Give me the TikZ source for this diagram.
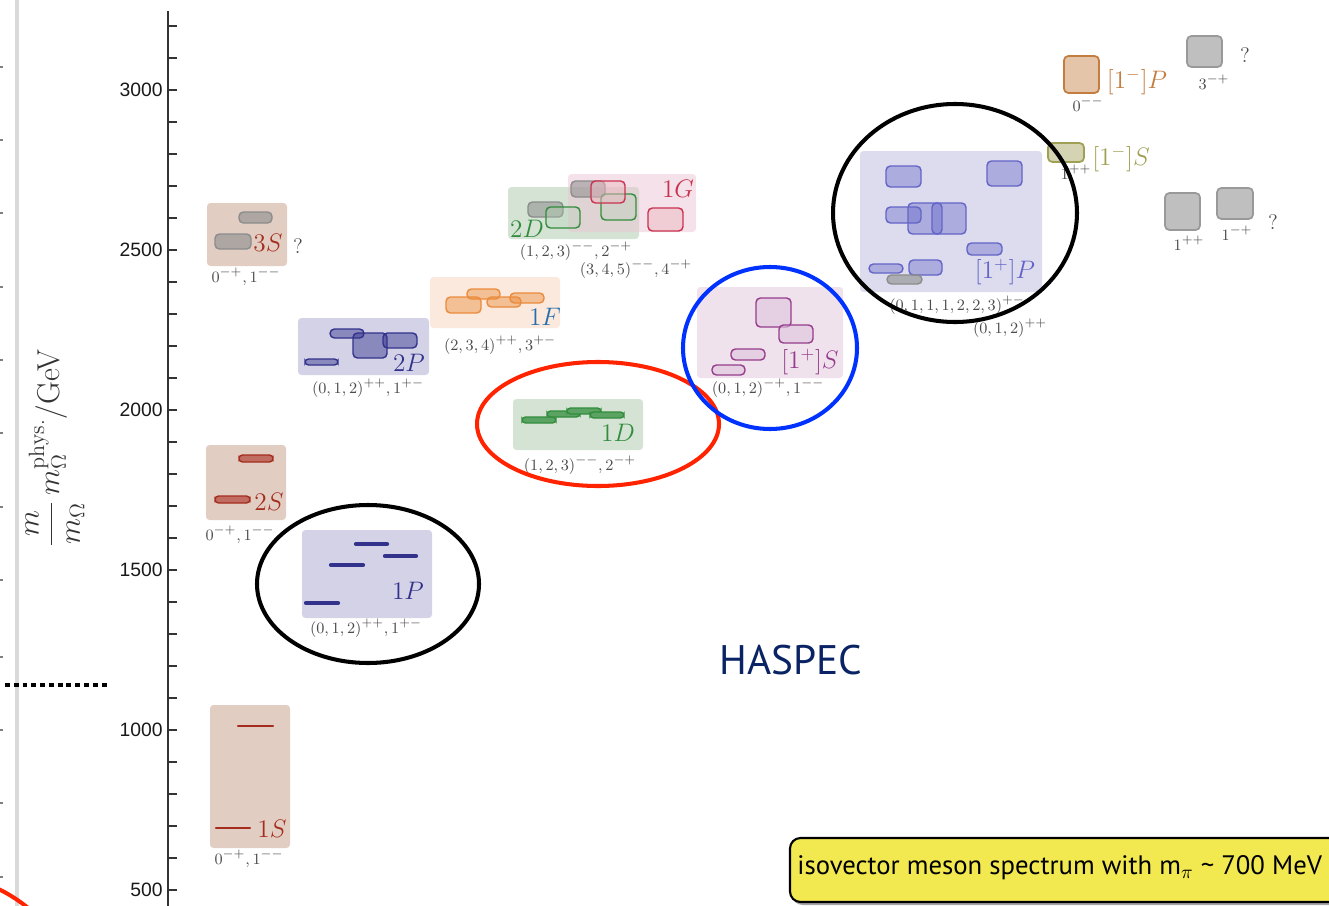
\documentclass[tikz,border=0pt]{standalone}
\usepackage{fontspec}
\newfontfamily\tickfont{Liberation Sans}
\newfontfamily\slidefont{PT Sans}
\definecolor{sbg}{RGB}{226,205,195}
\definecolor{scol}{RGB}{165,45,30}
\definecolor{pbg}{RGB}{212,210,230}
\definecolor{pcol}{RGB}{50,50,140}
\definecolor{dbg}{RGB}{170,200,170}
\definecolor{dcol}{RGB}{50,140,60}
\definecolor{fbg}{RGB}{251,233,222}
\definecolor{fcol}{RGB}{235,140,60}
\definecolor{ftxt}{RGB}{40,110,170}
\definecolor{gbg}{RGB}{235,195,211}
\definecolor{gcol}{RGB}{200,50,80}
\definecolor{hsbg}{RGB}{240,226,236}
\definecolor{hscol}{RGB}{150,60,140}
\definecolor{hpbg}{RGB}{220,220,238}
\definecolor{hpcol}{RGB}{100,100,200}
\definecolor{brcol}{RGB}{195,125,65}
\definecolor{olcol}{RGB}{160,160,85}
\definecolor{qngray}{RGB}{75,75,75}
\definecolor{navy}{RGB}{10,35,100}
\definecolor{notey}{RGB}{242,232,80}
\definecolor{ringred}{RGB}{255,35,0}
\definecolor{ringblue}{RGB}{0,50,255}
\begin{document}
\begin{tikzpicture}[x=0.02cm, y=-0.02cm,
    lbl/.style={font=\fontsize{14.5}{16}\selectfont, inner sep=0pt},
    qn/.style={font=\fontsize{9.5}{11}\selectfont, text=qngray, inner sep=0pt},
    ask/.style={font=\fontsize{12}{14}\selectfont, text=qngray, inner sep=0pt},
    bg/.style={rounded corners=2pt},
    bar/.style={rounded corners=2.5pt, line width=0.8pt},
    lev/.style={line width=2.4pt, line cap=round},
    ring/.style={line width=2.3pt}
  ]
  \useasboundingbox (0,0) rectangle (1329,906);

  % slide edge on the left
  \draw[gray!30, line width=1.8pt] (17,0) -- (17,906);
  \foreach \t in {67,140,213,287,360,433,507,580,657,730,803,877}
    \draw[gray, line width=0.8pt] (0,\t) -- (3,\t);
  \draw[line width=2.8pt, dash pattern=on 2.8pt off 2.2pt] (5,685) -- (107,685);
  \draw[ringred, ring] (-67,1024) ellipse [x radius=150, y radius=150];

  % mass axis
  \draw[line width=1pt, black!80] (168,11) -- (168,906);
  \foreach \m in {500,600,...,3200}
    \draw[line width=0.9pt, black!80] (168,{890-(\m-500)*0.32}) -- ++(9,0);
  \foreach \m in {500,1000,...,3000}
    \node(tick\m) at (163,{890-(\m-500)*0.32}) [anchor=east, inner sep=0pt, font=\tickfont\fontsize{11}{13}\selectfont, text=black!90] {\m};
  \node(ylab) at (55,448) [rotate=90, font=\fontsize{18}{20}\selectfont, text=black!80] {$\displaystyle\frac{m}{m_\Omega}\,m_\Omega^{\mathrm{phys.}}$/GeV};

  % S-wave
  \fill[sbg, bg] (210,705) rectangle (290,848);
  \draw[scol, lev, line width=1.3pt] (238,726) -- (273,726);
  \draw[scol, lev, line width=1.3pt] (216,828) -- (250,828);
  \node(lbl_1S) at (272,829) [lbl, text=scol] {$1S$};
  \node(qn_1S) at (249,859) [qn] {$0^{-+},1^{--}$};

  \fill[sbg, bg] (206,445) rectangle (286,520);
  \draw[scol, bar, fill=scol!70, rounded corners=2pt] (239,455) rectangle (273,462);
  \draw[scol, bar, fill=scol!70, rounded corners=2pt] (215,496) rectangle (250,503);
  \node(lbl_2S) at (269,502) [lbl, text=scol] {$2S$};
  \node(qn_2S) at (240,535) [qn] {$0^{-+},1^{--}$};

  \fill[sbg, bg] (207,203) rectangle (287,266);
  \draw[black!45, bar, fill=black!45, fill opacity=0.6] (239,212) rectangle (272,223);
  \draw[black!45, bar, fill=black!45, fill opacity=0.6] (215,234) rectangle (251,249);
  \node(lbl_3S) at (268,243) [lbl, text=scol] {$3S$};
  \node(q_3S) at (298,246) [ask] {?};
  \node(qn_3S) at (246,277) [qn] {$0^{-+},1^{--}$};

  % P-wave
  \fill[pbg, bg] (302,530) rectangle (432,618);
  \draw[pcol, lev] (306,603) -- (338,603);
  \draw[pcol, lev] (331,565) -- (363,565);
  \draw[pcol, lev] (356,544) -- (387,544);
  \draw[pcol, lev] (385,556) -- (416,556);
  \node(lbl_1P) at (408,591) [lbl, text=pcol] {$1P$};
  \node(qn_1P) at (366,628) [qn] {$(0,1,2)^{++},1^{+-}$};

  \fill[pbg, bg] (298,318) rectangle (429,375);
  \draw[pcol, bar, fill=pcol, fill opacity=0.45, rounded corners=2pt] (305,359) rectangle (338,365);
  \draw[pcol, bar, fill=pcol, fill opacity=0.45] (330,329) rectangle (364,338);
  \draw[pcol, bar, fill=pcol, fill opacity=0.45] (353,333) rectangle (387,358);
  \draw[pcol, bar, fill=pcol, fill opacity=0.45] (383,333) rectangle (417,348);
  \node(lbl_2P) at (409,363) [lbl, text=pcol] {$2P$};
  \node(qn_2P) at (368,388) [qn] {$(0,1,2)^{++},1^{+-}$};

  % D-wave
  \fill[dbg, bg, fill opacity=0.5] (513,399) rectangle (643,450);
  \draw[dcol, bar, fill=dcol!80, rounded corners=2pt] (522,417) rectangle (556,423);
  \draw[dcol, bar, fill=dcol!80, rounded corners=2pt] (547,411) rectangle (580,417);
  \draw[dcol, bar, fill=dcol!80, rounded corners=2pt] (567,408) rectangle (601,414);
  \draw[dcol, bar, fill=dcol!80, rounded corners=2pt] (590,412) rectangle (624,418);
  \node(lbl_1D) at (618,433) [lbl, text=dcol] {$1D$};
  \node(qn_1D) at (580,465) [qn] {$(1,2,3)^{--},2^{-+}$};

  % F-wave
  \fill[fbg, bg] (430,277) rectangle (560,328);
  \draw[fcol, bar, fill=fcol, fill opacity=0.45] (446,297) rectangle (481,313);
  \draw[fcol, bar, fill=fcol, fill opacity=0.45] (467,289) rectangle (500,299);
  \draw[fcol, bar, fill=fcol, fill opacity=0.45] (487,297) rectangle (521,307);
  \draw[fcol, bar, fill=fcol, fill opacity=0.45] (510,293) rectangle (544,303);
  \node(lbl_1F) at (545,317) [lbl, text=ftxt] {$1F$};
  \node(qn_1F) at (500,345) [qn] {$(2,3,4)^{++},3^{+-}$};

  % 2D and G-wave
  \fill[dbg, bg, fill opacity=0.5] (508,187) rectangle (639,239);
  \fill[gbg, bg, fill opacity=0.5] (568,174) rectangle (696,232);
  \draw[black!45, bar, fill=black!45, fill opacity=0.55] (528,202) rectangle (563,217);
  \draw[black!45, bar, fill=black!45, fill opacity=0.55] (571,181) rectangle (605,197);
  \draw[dcol, bar, fill=dcol!40, fill opacity=0.3] (546,207) rectangle (580,228);
  \draw[dcol, bar, fill=dcol!40, fill opacity=0.3] (601,194) rectangle (636,220);
  \draw[gcol, bar, fill=gcol!35, fill opacity=0.5] (591,181) rectangle (625,203);
  \draw[gcol, bar, fill=gcol!35, fill opacity=0.5] (648,208) rectangle (683,231);
  \node(lbl_2D) at (527,229) [lbl, text=dcol] {$2D$};
  \node(lbl_1G) at (678,189) [lbl, text=gcol] {$1G$};
  \node(qn_2D) at (576,251) [qn] {$(1,2,3)^{--},2^{-+}$};
  \node(qn_1G) at (636,269) [qn] {$(3,4,5)^{--},4^{-+}$};

  % hybrid S
  \fill[hsbg, bg] (697,287) rectangle (843,378);
  \draw[hscol, bar, fill=hscol!30, fill opacity=0.6] (712,365) rectangle (745,375);
  \draw[hscol, bar, fill=hscol!30, fill opacity=0.6] (731,349) rectangle (765,360);
  \draw[hscol, bar, fill=hscol!30, fill opacity=0.6] (756,298) rectangle (791,327);
  \draw[hscol, bar, fill=hscol!30, fill opacity=0.6] (779,325) rectangle (813,343);
  \node(lbl_hS) at (810,362) [lbl, text=hscol] {$[1^{+}]S$};
  \node(qn_hS) at (768,388) [qn] {$(0,1,2)^{-+},1^{--}$};

  % hybrid P
  \fill[hpbg, bg] (860,151) rectangle (1042,292);
  \draw[hpcol, bar, fill=hpcol, fill opacity=0.4] (886,166) rectangle (921,187);
  \draw[hpcol, bar, fill=hpcol, fill opacity=0.4] (987,161) rectangle (1022,186);
  \draw[hpcol, bar, fill=hpcol, fill opacity=0.4] (886,207) rectangle (921,223);
  \draw[hpcol, bar, fill=hpcol, fill opacity=0.4] (908,203) rectangle (942,234);
  \draw[hpcol, bar, fill=hpcol, fill opacity=0.4] (932,203) rectangle (966,234);
  \draw[hpcol, bar, fill=hpcol, fill opacity=0.4] (967,243) rectangle (1002,255);
  \draw[hpcol, bar, fill=hpcol, fill opacity=0.4] (869,264) rectangle (903,273);
  \draw[hpcol, bar, fill=hpcol, fill opacity=0.4] (909,260) rectangle (942,275);
  \draw[black!45, bar, fill=black!45, fill opacity=0.6] (887,275) rectangle (922,284);
  \node(lbl_hP) at (1005,272) [lbl, text=hpcol] {$[1^{+}]P$};
  \node(qn_hP1) at (957,305) [qn] {$(0,1,1,1,2,2,3)^{+-}$};
  \node(qn_hP2) at (1010,328) [qn] {$(0,1,2)^{++}$};

  % other hybrids and exotics
  \draw[brcol, bar, fill=brcol!45, line width=1pt] (1064,56) rectangle (1099,93);
  \node(lbl_mP) at (1137,82) [lbl, text=brcol] {$[1^{-}]P$};
  \node(qn_mP) at (1088,104) [qn] {$0^{--}$};
  \draw[black!40, bar, fill=black!25, line width=1pt] (1187,36) rectangle (1222,67);
  \node(q_top) at (1245,55) [ask] {?};
  \node(qn_top) at (1214,82) [qn] {$3^{-+}$};
  \draw[olcol, bar, fill=olcol!45, line width=1pt] (1048,143) rectangle (1084,162);
  \node(lbl_mS) at (1121,159) [lbl, text=olcol] {$[1^{-}]S$};
  \node(qn_mS) at (1076,172) [qn] {$1^{++}$};
  \draw[black!40, bar, fill=black!25, line width=1pt] (1165,193) rectangle (1200,230);
  \draw[black!40, bar, fill=black!25, line width=1pt] (1217,188) rectangle (1253,219);
  \node(qn_ex1) at (1189,243) [qn] {$1^{++}$};
  \node(qn_ex2) at (1237,233) [qn] {$1^{-+}$};
  \node(q_ex) at (1273,222) [ask] {?};

  % highlight rings
  \draw[ring] (368,584) ellipse [x radius=111, y radius=79];
  \draw[ring, ringred] (598,424) ellipse [x radius=121, y radius=62];
  \draw[ring, ringblue] (770,348) ellipse [x radius=87, y radius=81];
  \draw[ring] (955,213) ellipse [x radius=122, y radius=109];

  % slide texts
  \node(haspec) at (791,660) [font=\slidefont\fontsize{23.5}{26}\selectfont, text=navy] {HASPEC};
  \fill[black!35, rounded corners=6pt] (792,840) rectangle (1350,905);
  \draw[fill=notey, line width=1.2pt, rounded corners=6pt] (790,838) rectangle (1348,902);
  \node(note) at (797,868) [anchor=west, inner sep=0pt, font=\slidefont\fontsize{15.2}{18}\selectfont] {isovector meson spectrum with m$_\pi$ \textasciitilde\ 700 MeV};
\end{tikzpicture}
\end{document}
